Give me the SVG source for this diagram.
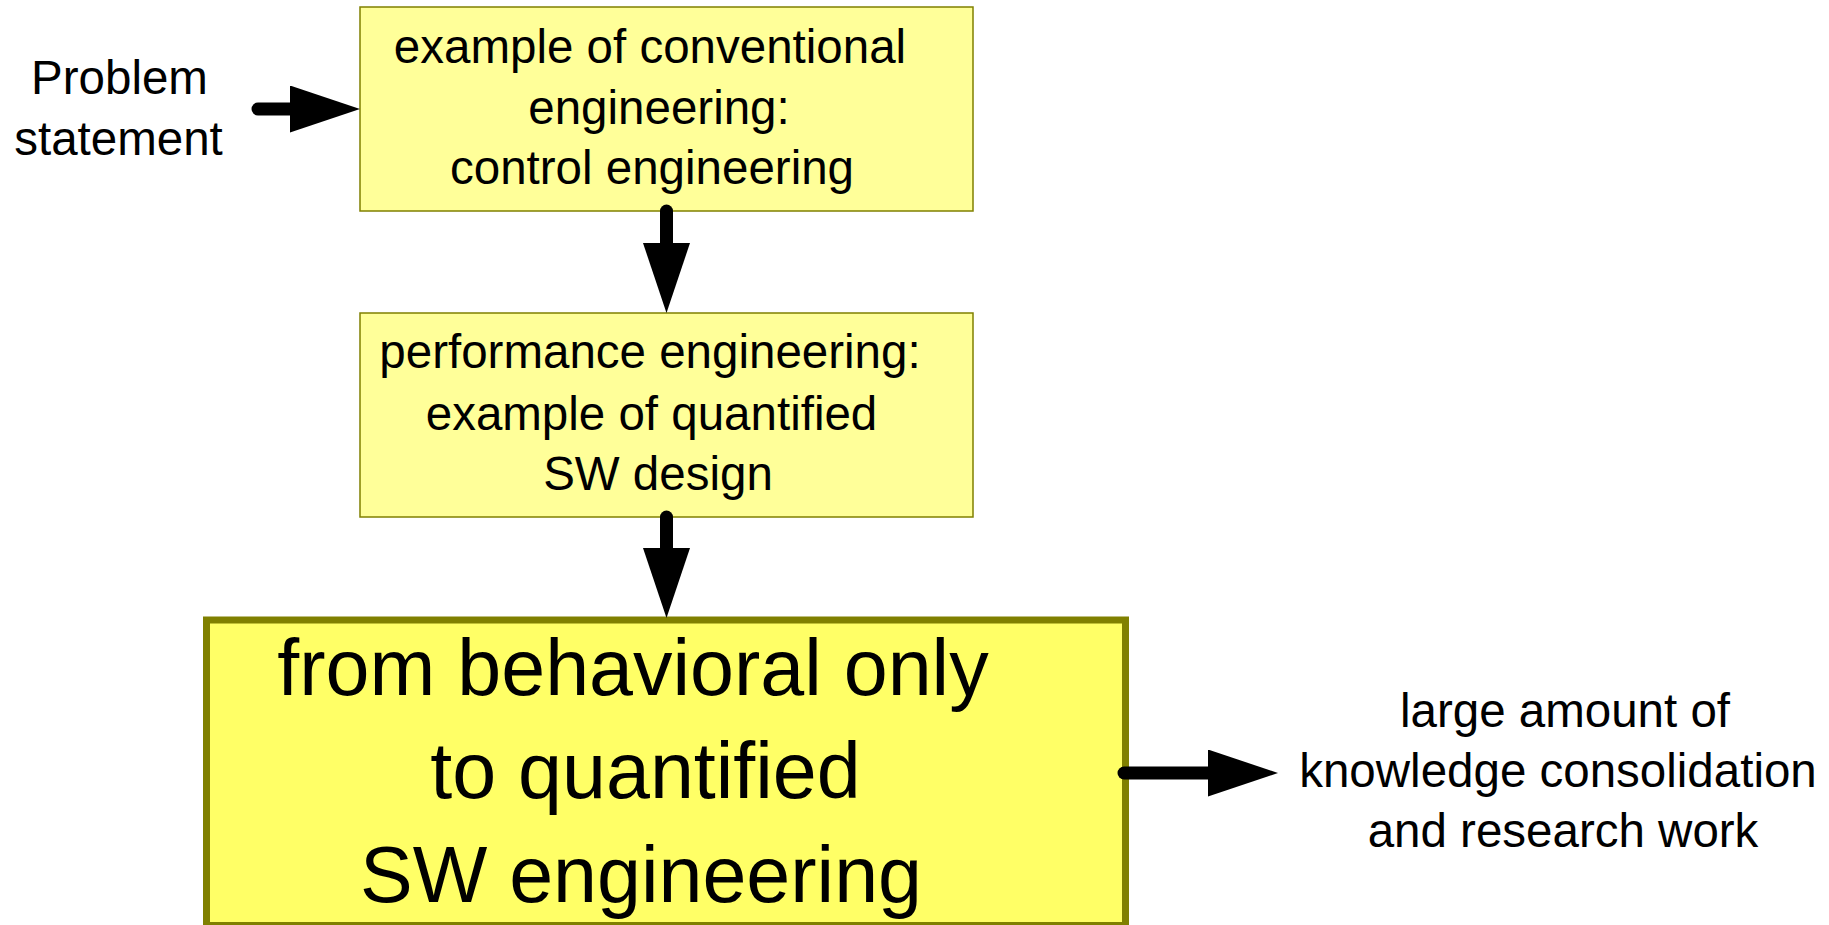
<svg xmlns="http://www.w3.org/2000/svg" width="1829" height="925" viewBox="0 0 1829 925">
<defs>
<style>
.box{fill:#ffff99;stroke:#808000;stroke-width:1.5}
.big{fill:#ffff66;stroke:#808000;stroke-width:7}
.t{font-family:"Liberation Sans",Arial,sans-serif;font-size:47.5px;fill:#000;text-anchor:middle}
.tb{font-family:"Liberation Sans",Arial,sans-serif;font-size:79px;fill:#000;text-anchor:middle}
.c{fill:none;stroke:#000;stroke-width:13;stroke-linecap:round}
</style>
<marker id="ah" markerUnits="userSpaceOnUse" markerWidth="70" markerHeight="47" refX="0" refY="23.5" orient="auto" viewBox="0 0 70 47">
<path d="M0,0 L70,23.5 L0,47 Z" fill="#000"/>
</marker>
</defs>
<rect width="1829" height="925" fill="#fff"/>
<g id="problem">
<text class="t" x="119.5" y="94">Problem</text>
<text class="t" x="118.5" y="155">statement</text>
</g>
<g id="box1">
<rect class="box" x="360" y="7" width="613" height="204"/>
<text class="t" x="650" y="63">example of conventional</text>
<text class="t" x="659" y="124">engineering:</text>
<text class="t" x="652" y="184">control engineering</text>
</g>
<g id="box2">
<rect class="box" x="360" y="313" width="613" height="204"/>
<text class="t" x="650" y="368">performance engineering:</text>
<text class="t" x="651.5" y="430">example of quantified</text>
<text class="t" x="658" y="490">SW design</text>
</g>
<g id="box3">
<rect class="big" x="206.5" y="620" width="919" height="305.5"/>
<text class="tb" x="633" y="695">from behavioral only</text>
<text class="tb" x="645.5" y="798">to quantified</text>
<text class="tb" x="641" y="902">SW engineering</text>
</g>
<g id="result">
<text class="t" x="1565" y="727">large amount of</text>
<text class="t" x="1558" y="787">knowledge consolidation</text>
<text class="t" x="1563" y="847">and research work</text>
</g>
<g id="connectors">
<path class="c" d="M258,109 L290,109" marker-end="url(#ah)"/>
<path class="c" d="M666.5,211 L666.5,243" marker-end="url(#ah)"/>
<path class="c" d="M666.5,517 L666.5,548" marker-end="url(#ah)"/>
<path class="c" d="M1124,773 L1208,773" marker-end="url(#ah)"/>
</g>
</svg>
